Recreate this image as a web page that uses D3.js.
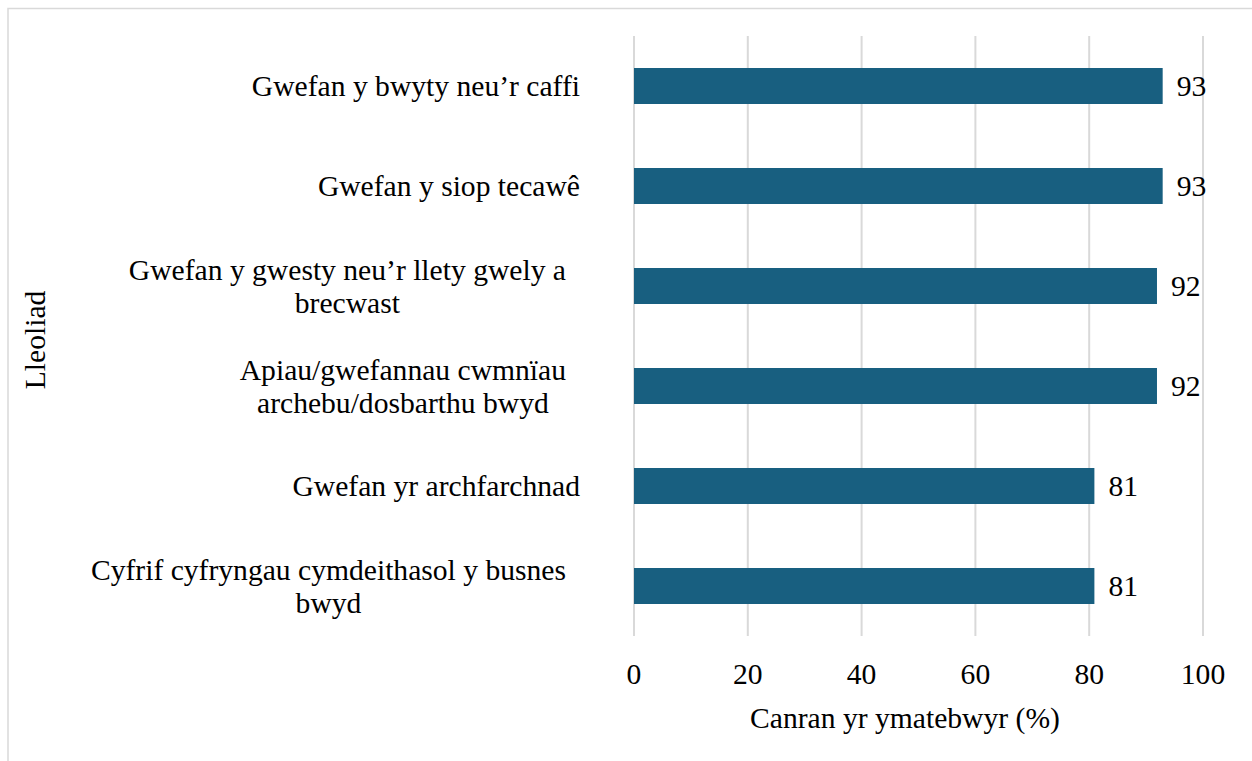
<!DOCTYPE html>
<html>
<head>
<meta charset="utf-8">
<script src="https://cdn.jsdelivr.net/npm/d3@7"></script>
<style>
  html, body { margin: 0; padding: 0; background: #ffffff; }
  svg { display: block; }
  text { font-family: "Liberation Serif", "Times New Roman", serif; fill: #000; }
</style>
</head>
<body>
<svg id="chart" width="1252" height="761"></svg>
<script>
// Categories, top to bottom
const categories = [
  "Gwefan y bwyty neu’r caffi",
  "Gwefan y siop tecawê",
  "Gwefan y gwesty neu’r llety gwely a brecwast",
  "Apiau/gwefannau cwmnïau archebu/dosbarthu bwyd",
  "Gwefan yr archfarchnad",
  "Cyfrif cyfryngau cymdeithasol y busnes bwyd"
];
// Percentage of respondents
const values = [93, 93, 92, 92, 81, 81];
const xTicks = [0, 20, 40, 60, 80, 100];
const xTitle = "Canran yr ymatebwyr (%)";
const yTitle = "Lleoliad";

const W = 1252, H = 761;
const plot = { left: 633.5, right: 1202.5, top: 36, bottom: 636 };
const fontSize = 29.6;
const barColor = "#185f80";
const gridColor = "#d9d9d9";

const svg = d3.select("#chart");

// Outer chart frame
svg.append("rect")
  .attr("x", 8).attr("y", 8.5)
  .attr("width", W).attr("height", H)
  .attr("fill", "none").attr("stroke", gridColor).attr("stroke-width", 1.5);

const x = d3.scaleLinear().domain([0, 100]).range([plot.left, plot.right]);
const y = d3.scaleBand().domain(categories)
  .range([plot.top, plot.bottom])
  .paddingInner(0.64).paddingOuter(0.32);

// Vertical gridlines and tick labels
const xAxis = d3.axisBottom(x).tickValues(xTicks).tickSize(-(plot.bottom - plot.top)).tickPadding(0).tickFormat(d3.format("d"));
const gx = svg.append("g")
  .attr("transform", `translate(0,${plot.bottom})`)
  .call(xAxis);
gx.select(".domain").remove();
gx.selectAll(".tick line").attr("stroke", gridColor).attr("stroke-width", 2);
gx.selectAll(".tick text")
  .attr("y", 48)
  .attr("dy", 0)
  .style("font-family", "Liberation Serif, Times New Roman, serif")
  .style("font-size", fontSize + "px")
  .attr("fill", "#000");

// Bars
svg.append("g").selectAll("rect")
  .data(categories)
  .join("rect")
  .attr("x", x(0) + 0.5)
  .attr("y", d => y(d))
  .attr("width", (d, i) => x(values[i]) - x(0) - 0.5)
  .attr("height", y.bandwidth())
  .attr("fill", barColor);

// Value labels
svg.append("g").selectAll("text")
  .data(categories)
  .join("text")
  .attr("x", (d, i) => x(values[i]) + 14)
  .attr("y", d => y(d) + y.bandwidth() / 2 + 10)
  .style("font-size", fontSize + "px")
  .text((d, i) => values[i]);

// Category labels, wrapped and centred line by line, block aligned towards the axis
const measure = svg.append("text").style("font-size", fontSize + "px").attr("visibility", "hidden");
function textWidth(s) { measure.text(s); return measure.node().getComputedTextLength(); }
function wrap(s, maxW) {
  const words = s.split(" ");
  const lines = [];
  let cur = "";
  words.forEach(w => {
    const t = cur ? cur + " " + w : w;
    if (cur && textWidth(t) > maxW) { lines.push(cur); cur = w; }
    else cur = t;
  });
  if (cur) lines.push(cur);
  return lines;
}
const lineH = 33;
const gl = svg.append("g");
categories.forEach(c => {
  const lines = wrap(c, 510);
  const bw = d3.max(lines, l => textWidth(l));
  const right = lines.length > 1 ? 566 : 580;
  const cx = right - bw / 2;
  const cy = y(c) + y.bandwidth() / 2;
  const t = gl.append("text")
    .attr("text-anchor", "middle")
    .style("font-size", fontSize + "px");
  lines.forEach((l, i) => {
    t.append("tspan")
      .attr("x", cx)
      .attr("y", cy + 10 + (i - (lines.length - 1) / 2) * lineH)
      .text(l);
  });
});
measure.remove();

// Axis titles
svg.append("text")
  .attr("x", 905).attr("y", 728)
  .attr("text-anchor", "middle")
  .style("font-size", fontSize + "px")
  .text(xTitle);

svg.append("text")
  .attr("transform", `translate(45,${(plot.top + plot.bottom) / 2 + 4}) rotate(-90)`)
  .attr("text-anchor", "middle")
  .style("font-size", fontSize + "px")
  .text(yTitle);
</script>
</body>
</html>
